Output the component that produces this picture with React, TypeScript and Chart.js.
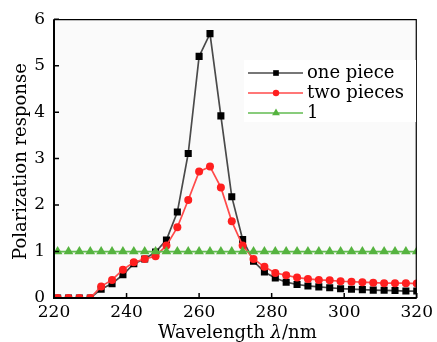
import React, { useEffect, useRef } from "react";
import { Chart, registerables } from "chart.js";

Chart.register(...registerables);

const wavelengths = [221, 224, 227, 230, 233, 236, 239, 242, 245, 248, 251, 254, 257, 260, 263, 266, 269, 272, 275, 278, 281, 284, 287, 290, 293, 296, 299, 302, 305, 308, 311, 314, 317, 320];
const onePiece = [0, 0, 0, 0, 0.19, 0.31, 0.5, 0.74, 0.84, 0.99, 1.25, 1.85, 3.11, 5.2, 5.69, 3.92, 2.18, 1.26, 0.79, 0.56, 0.43, 0.34, 0.29, 0.26, 0.24, 0.22, 0.2, 0.19, 0.18, 0.17, 0.165, 0.16, 0.15, 0.15];
const twoPieces = [0, 0, 0, 0, 0.25, 0.39, 0.61, 0.77, 0.84, 0.9, 1.13, 1.52, 2.11, 2.72, 2.83, 2.38, 1.65, 1.13, 0.84, 0.67, 0.54, 0.49, 0.44, 0.41, 0.39, 0.38, 0.36, 0.35, 0.34, 0.33, 0.32, 0.32, 0.32, 0.31];
const reference = wavelengths.map(() => 1);
const seriesNames = ["one piece", "two pieces", "1"];
const xTicks = [220, 240, 260, 280, 300, 320];
const yTicks = [0, 1, 2, 3, 4, 5, 6];

const FONT = "'DejaVu Serif', serif";

const styles = [
  { line: "#4a4a4a", fill: "#000000", point: "rect", radius: 5 },
  { line: "#ff4a4a", fill: "#ff1f1f", point: "circle", radius: 4 },
  { line: "#62bb50", fill: "#55b33f", point: "triangle", radius: 5.6 },
];

function drawMarker(ctx: CanvasRenderingContext2D, kind: string, x: number, y: number, r: number) {
  ctx.beginPath();
  if (kind === "rect") {
    const s = Math.SQRT1_2 * r;
    ctx.rect(x - s, y - s, 2 * s, 2 * s);
  } else if (kind === "circle") {
    ctx.arc(x, y, r, 0, Math.PI * 2);
  } else {
    ctx.moveTo(x, y - r);
    ctx.lineTo(x + r * 0.87, y + r * 0.5);
    ctx.lineTo(x - r * 0.87, y + r * 0.5);
    ctx.closePath();
  }
  ctx.fill();
}

const decorPlugin = {
  id: "decor",
  beforeDraw(chart: any) {
    const { ctx, chartArea: a } = chart;
    ctx.save();
    ctx.fillStyle = "#fafafa";
    ctx.fillRect(a.left, a.top, a.right - a.left, a.bottom - a.top);
    ctx.restore();
  },
  afterDraw(chart: any) {
    const { ctx, chartArea: a, scales } = chart;
    ctx.save();
    // frame
    ctx.strokeStyle = "#000";
    ctx.lineWidth = 1.2;
    ctx.beginPath();
    ctx.moveTo(a.left, a.top + 0.5);
    ctx.lineTo(a.right - 0.5, a.top + 0.5);
    ctx.lineTo(a.right - 0.5, a.bottom);
    ctx.stroke();
    ctx.lineWidth = 2;
    ctx.beginPath();
    ctx.moveTo(a.left, a.top);
    ctx.lineTo(a.left, a.bottom);
    ctx.lineTo(a.right, a.bottom);
    ctx.stroke();
    // inward ticks
    ctx.lineWidth = 1.5;
    ctx.beginPath();
    xTicks.forEach((v) => {
      const x = scales.x.getPixelForValue(v);
      ctx.moveTo(x, a.bottom);
      ctx.lineTo(x, a.bottom - 5);
    });
    yTicks.forEach((v) => {
      const y = scales.y.getPixelForValue(v);
      ctx.moveTo(a.left, y);
      ctx.lineTo(a.left + 5, y);
    });
    ctx.stroke();

    // y title
    ctx.fillStyle = "#000";
    ctx.font = `18px ${FONT}`;
    ctx.save();
    ctx.translate(26, (a.top + a.bottom) / 2 + 3);
    ctx.rotate(-Math.PI / 2);
    ctx.textAlign = "center";
    ctx.textBaseline = "alphabetic";
    ctx.fillText("Polarization response", 0, 0);
    ctx.restore();

    // x title with italic lambda
    const parts = [
      { t: "Wavelength ", f: `18px ${FONT}` },
      { t: "λ", f: `italic 18px ${FONT}` },
      { t: "/nm", f: `18px ${FONT}` },
    ];
    let total = 0;
    parts.forEach((p) => {
      ctx.font = p.f;
      total += ctx.measureText(p.t).width;
    });
    let x = (a.left + a.right) / 2 + 2 - total / 2;
    ctx.textAlign = "left";
    ctx.textBaseline = "alphabetic";
    parts.forEach((p) => {
      ctx.font = p.f;
      ctx.fillText(p.t, x, 338);
      x += ctx.measureText(p.t).width;
    });

    // legend
    ctx.fillStyle = "#ffffff";
    ctx.fillRect(244, 60, 172, 62);
    const rows = [73, 93, 113];
    chart.data.datasets.forEach((ds: any, i: number) => {
      const y = rows[i];
      const s = styles[i];
      ctx.strokeStyle = s.line;
      ctx.lineWidth = 1.6;
      ctx.beginPath();
      ctx.moveTo(248, y);
      ctx.lineTo(303, y);
      ctx.stroke();
      ctx.fillStyle = s.fill;
      drawMarker(ctx, s.point, 276, y, s.radius * 0.8);
      ctx.fillStyle = "#000";
      ctx.font = `18px ${FONT}`;
      ctx.textAlign = "left";
      ctx.textBaseline = "middle";
      ctx.fillText(seriesNames[i], 307, y);
    });
    ctx.restore();
  },
};

export default function App() {
  const ref = useRef<HTMLCanvasElement | null>(null);
  useEffect(() => {
    document.body.style.margin = "0";
    const canvas = ref.current!;
    const mk = (vals: number[]) => wavelengths.map((w, i) => ({ x: w, y: vals[i] }));
    const all = [onePiece, twoPieces, reference];
    const chart = new Chart(canvas, {
      type: "line",
      data: {
        datasets: all.map((vals, i) => ({
          label: seriesNames[i],
          data: mk(vals),
          borderColor: styles[i].line,
          backgroundColor: styles[i].fill,
          pointBackgroundColor: styles[i].fill,
          pointBorderColor: styles[i].fill,
          pointBorderWidth: 0,
          pointStyle: styles[i].point as any,
          pointRadius: styles[i].radius,
          borderWidth: 1.7,
          tension: 0,
          order: 3 - i,
        })),
      },
      options: {
        animation: false,
        responsive: false,
        devicePixelRatio: 1,
        layout: { padding: { left: 0, top: 17, right: 16, bottom: 0 } },
        plugins: { legend: { display: false }, tooltip: { enabled: false } },
        scales: {
          x: {
            type: "linear",
            min: 220,
            max: 320,
            afterFit: (s: any) => {
              s.height = 44;
            },
            afterBuildTicks: (s: any) => {
              s.ticks = xTicks.map((v) => ({ value: v }));
            },
            grid: { display: false, drawTicks: false },
            border: { display: false },
            ticks: {
              padding: 4,
              color: "#000",
              font: { family: FONT, size: 17 },
              maxRotation: 0,
              autoSkip: false,
            },
          },
          y: {
            type: "linear",
            min: 0,
            max: 6,
            afterFit: (s: any) => {
              s.width = 54;
            },
            afterBuildTicks: (s: any) => {
              s.ticks = yTicks.map((v) => ({ value: v }));
            },
            grid: { display: false, drawTicks: false },
            border: { display: false },
            ticks: {
              padding: 9,
              color: "#000",
              font: { family: FONT, size: 17 },
              autoSkip: false,
            },
          },
        },
      },
      plugins: [decorPlugin],
    });
    return () => chart.destroy();
  }, []);
  return (
    <div style={{ width: 437, height: 342 }}>
      <canvas ref={ref} width={437} height={342} style={{ display: "block" }} />
    </div>
  );
}
